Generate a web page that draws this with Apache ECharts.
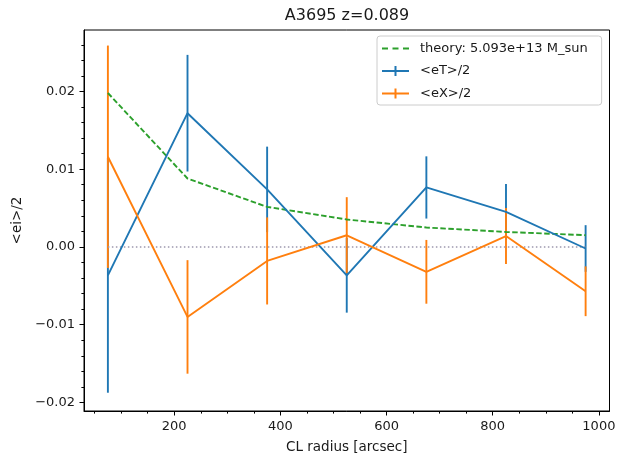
<!DOCTYPE html>
<html>
<head>
<meta charset="utf-8">
<script src="https://cdn.jsdelivr.net/npm/echarts@6/dist/echarts.min.js"></script>
<style>
html,body{margin:0;padding:0;background:#fff;}
#chart{width:621px;height:463px;}
</style>
</head>
<body>
<div id="chart"></div>
<script>
// ---- data ----
const radius = [75, 225, 375, 525, 675, 825, 975];
const theory = [0.0198, 0.0088, 0.00515, 0.00353, 0.0025, 0.00193, 0.00151];
const eT = [-0.00365, 0.0172, 0.0074, -0.00365, 0.00765, 0.0045, -0.0002];
const eTErr = [0.0151, 0.0075, 0.0055, 0.0048, 0.0040, 0.0036, 0.0030];
const eX = [0.0116, -0.0090, -0.0018, 0.0015, -0.0032, 0.0014, -0.0057];
const eXErr = [0.0143, 0.0073, 0.0056, 0.0049, 0.0041, 0.0036, 0.0032];
const xMajorTicks = [200, 400, 600, 800, 1000];
const xMinorTicks = [50, 100, 150, 250, 300, 350, 450, 500, 550, 650, 700, 750, 850, 900, 950];
const yMajorTicks = [-0.02, -0.01, 0, 0.01, 0.02];
const yMinorTicks = [-0.018, -0.016, -0.014, -0.012, -0.008, -0.006, -0.004, -0.002,
  0.002, 0.004, 0.006, 0.008, 0.012, 0.014, 0.016, 0.018, 0.022, 0.024, 0.026];
const titleText = 'A3695 z=0.089';
const theoryName = 'theory: 5.093e+13 M_sun';
const eTName = '<eT>/2';
const eXName = '<eX>/2';

const FONT = 'DejaVu Sans';
const TXT = '#1a1a1a';
const BLUE = '#1f77b4', ORANGE = '#ff7f0e', GREEN = '#2ca02c';
const X_MIN = 30, X_MAX = 1020, Y_MIN = -0.0211, Y_MAX = 0.0279;
const LW = 1.9;

function pairs(xs, ys) { return xs.map((x, i) => [x, ys[i]]); }
function errData(xs, ys, es) { return xs.map((x, i) => [x, ys[i] - es[i], ys[i] + es[i]]); }
function errRender(color) {
  return function (params, api) {
    const x = api.value(0);
    const p1 = api.coord([x, api.value(1)]);
    const p2 = api.coord([x, api.value(2)]);
    return { type: 'line', shape: { x1: p1[0], y1: p1[1], x2: p2[0], y2: p2[1] },
      style: { stroke: color, lineWidth: LW } };
  };
}
const plusIcon = 'path://M0,4L27,4L27,6L0,6Z M12.5,0L14.5,0L14.5,10L12.5,10Z';
const dashIcon = 'path://M0,4L6,4L6,6L0,6Z M10.5,4L16.5,4L16.5,6L10.5,6Z M21,4L27,4L27,6L21,6Z';

const chart = echarts.init(document.getElementById('chart'), null, { renderer: 'canvas' });
const fmtY = v => v.toFixed(2).replace('-', '\u2212');
const fmtX = v => String(v);

chart.setOption({
  animation: false,
  backgroundColor: '#fff',
  textStyle: { fontFamily: FONT },
  title: {
    text: titleText, left: 347, top: 8, textAlign: 'center', padding: 0,
    textStyle: { fontFamily: FONT, fontSize: 16, fontWeight: 'normal', color: TXT }
  },
  grid: { left: 84, right: 11.5, top: 30, bottom: 52, show: true, borderColor: '#000', borderWidth: 1, backgroundColor: 'transparent' },
  legend: {
    orient: 'vertical', left: 377, top: 36,
    padding: [6, 14, 5, 5], itemGap: 9.5, itemWidth: 27, itemHeight: 12,
    borderColor: '#cccccc', borderWidth: 1, borderRadius: 3, backgroundColor: 'rgba(255,255,255,0.8)',
    textStyle: { fontFamily: FONT, fontSize: 13, color: TXT, padding: [0, 0, 0, 6] },
    data: [
      { name: theoryName, icon: dashIcon },
      { name: eTName, icon: plusIcon },
      { name: eXName, icon: plusIcon }
    ],
    selectedMode: false
  },
  xAxis: [
    {
      type: 'value', min: X_MIN, max: X_MAX, position: 'bottom',
      name: 'CL radius [arcsec]', nameLocation: 'middle', nameGap: 29,
      nameTextStyle: { fontFamily: FONT, fontSize: 13.5, color: TXT },
      axisLine: { show: true, onZero: false, lineStyle: { color: '#000', width: 1 } },
      axisTick: { show: true, customValues: xMajorTicks, length: 4.5, lineStyle: { color: '#000', width: 1 } },
      axisLabel: { show: true, customValues: xMajorTicks, margin: 9, fontFamily: FONT, fontSize: 13, color: TXT, formatter: fmtX },
      splitLine: { show: false }
    },
    {
      type: 'value', min: X_MIN, max: X_MAX, position: 'bottom',
      axisLine: { show: false, onZero: false },
      axisTick: { show: true, customValues: xMinorTicks, length: 2.6, lineStyle: { color: '#000', width: 1 } },
      axisLabel: { show: false },
      splitLine: { show: false }
    }
  ],
  yAxis: [
    {
      type: 'value', min: Y_MIN, max: Y_MAX, position: 'left',
      name: '<ei>/2', nameLocation: 'middle', nameGap: 53, nameRotate: 90,
      nameTextStyle: { fontFamily: FONT, fontSize: 13.5, color: TXT },
      axisLine: { show: true, onZero: false, lineStyle: { color: '#000', width: 1 } },
      axisTick: { show: true, customValues: yMajorTicks, length: 4.5, lineStyle: { color: '#000', width: 1 } },
      axisLabel: { show: true, customValues: yMajorTicks, margin: 9, fontFamily: FONT, fontSize: 13, color: TXT, formatter: fmtY },
      splitLine: { show: false }
    },
    {
      type: 'value', min: Y_MIN, max: Y_MAX, position: 'left',
      axisLine: { show: false, onZero: false },
      axisTick: { show: true, customValues: yMinorTicks, length: 2.6, lineStyle: { color: '#000', width: 1 } },
      axisLabel: { show: false },
      splitLine: { show: false }
    }
  ],
  series: [
    {
      name: theoryName, type: 'line', data: pairs(radius, theory), symbol: 'none',
      color: GREEN, lineStyle: { color: GREEN, width: LW, type: [5.5, 2.5] }
    },
    {
      name: 'zero', type: 'line', data: [[radius[0], 0], [radius[radius.length - 1], 0]], symbol: 'none',
      color: '#9c98ad', lineStyle: { color: '#9c98ad', width: 1.5, type: [1.5, 2.5] }
    },
    {
      name: eTName, type: 'line', data: pairs(radius, eT), symbol: 'none',
      color: BLUE, lineStyle: { color: BLUE, width: LW }
    },
    {
      name: eTName, type: 'custom', data: errData(radius, eT, eTErr), renderItem: errRender(BLUE),
      color: BLUE, encode: { x: 0, y: [1, 2] }
    },
    {
      name: eXName, type: 'line', data: pairs(radius, eX), symbol: 'none',
      color: ORANGE, lineStyle: { color: ORANGE, width: LW }
    },
    {
      name: eXName, type: 'custom', data: errData(radius, eX, eXErr), renderItem: errRender(ORANGE),
      color: ORANGE, encode: { x: 0, y: [1, 2] }
    }
  ]
});
</script>
</body>
</html>
